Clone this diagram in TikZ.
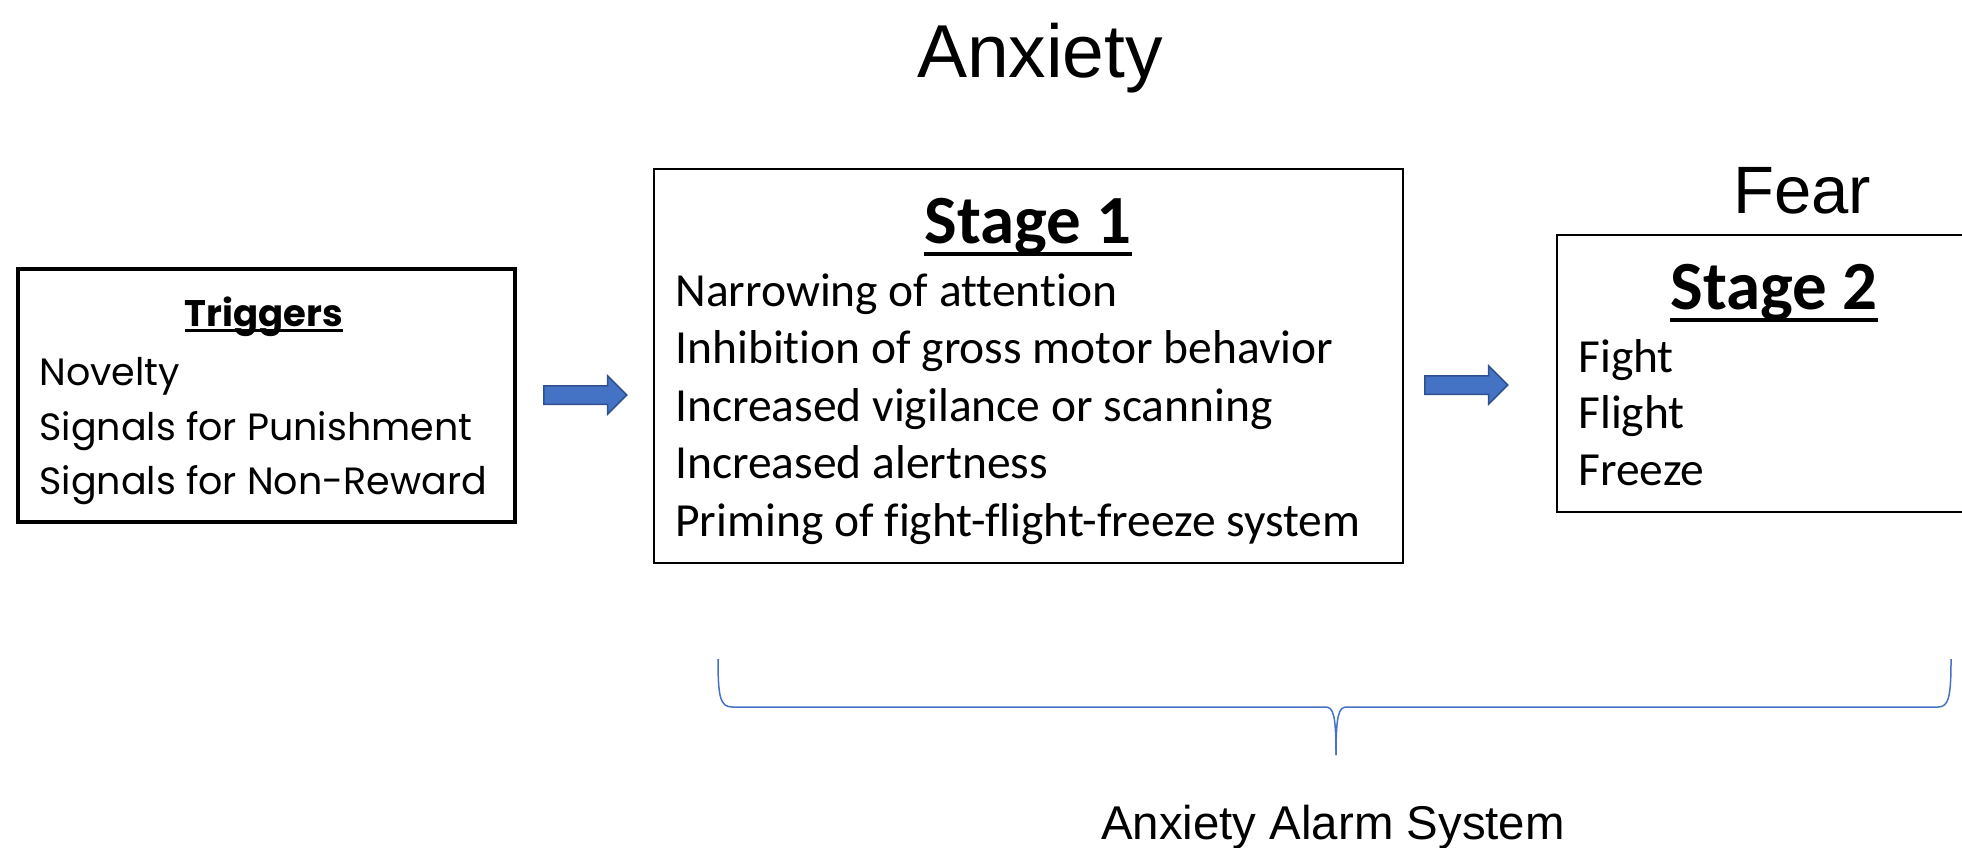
\documentclass[tikz,border=0pt]{standalone}
\usepackage{fontspec}
\setmainfont{Carlito}[Ligatures=NoCommon]
\newfontfamily\arialfont{Liberation Sans}
\newfontfamily\trigfont{Poppins}
\usetikzlibrary{shapes.arrows}

\definecolor{arrowblue}{RGB}{68,114,196}
\definecolor{arrowedge}{RGB}{47,82,143}
\definecolor{bracecol}{RGB}{68,114,196}

% underlined word: text, depth of rule, thickness
\newcommand{\ulword}[3]{\setbox0\hbox{#1}\rlap{\rule[-#2]{\wd0}{#3}}\box0}

\tikzset{every picture/.style={line width=0.75pt}}
\tikzset{
  boxnode/.style={draw, rectangle, inner sep=0, outer sep=0, anchor=north west},
  blockarrow/.style={single arrow, draw=arrowedge, fill=arrowblue, line width=1.5,
    single arrow head extend=10, single arrow tip angle=90, inner sep=8.5,
    minimum height=83, anchor=tail},
  itemtxt/.style={inner sep=0, anchor=base west, font=\fontsize{47.5}{57}\selectfont},
  trigtxt/.style={inner sep=0, anchor=base west, font=\trigfont\fontsize{38}{44}\selectfont},
  headtxt/.style={inner sep=0, anchor=base},
}

\begin{document}
\begin{tikzpicture}[x=1pt,y=1pt,yscale=-1,xscale=1]
\useasboundingbox (0,0) rectangle (1962,848);
\clip (0,0) rectangle (1962,848);

%Boxes
\node[boxnode, line width=4, minimum width=497, minimum height=253] (trig) at (18,269) {};
\node[boxnode, line width=2.7, minimum width=749, minimum height=394] (stageone) at (654,169) {};
\node[boxnode, line width=2.2, minimum width=430, minimum height=277] (stagetwo) at (1557,235) {};

%Block arrows
\node[blockarrow] (arrone) at (543,395) {};
\node[blockarrow] (arrtwo) at (1424,385) {};

%Brace
\draw[bracecol, line width=1.5] (718,659) .. controls (718,696) and (720,707) .. (732,707) -- (1325,707) .. controls (1333,707) and (1336,713) .. (1336,755);
\draw[bracecol, line width=1.5] (1336,755) .. controls (1336,713) and (1339,707) .. (1347,707) -- (1938,707) .. controls (1949,707) and (1951,696) .. (1951,659);

% Text Node
\node[headtxt, font=\arialfont\fontsize{75}{90}\selectfont] (anxiety) at (1040,78) {Anxiety};
% Text Node
\node[headtxt, font=\arialfont\fontsize{67}{80}\selectfont] (fear) at (1802,213) {Fear};
% Text Node
\node[headtxt, font=\arialfont\fontsize{47.4}{56}\selectfont] (alarm) at (1333,839) {Anxiety Alarm System};

% Text Node
\node[headtxt, font=\trigfont\bfseries\fontsize{37}{44}\selectfont] (trigtitle) at (264,326) {\ulword{Triggers}{6pt}{3pt}};
\node[trigtxt] (novelty) at (39,385) {Novelty};
\node[trigtxt] (punish) at (39,440) {Signals for Punishment};
\node[trigtxt] (nonrew) at (39,494) {Signals for Non-Reward};

% Text Node
\node[headtxt, font=\bfseries\fontsize{69}{80}\selectfont] (oneTitle) at (1028,243) {\ulword{Stage 1}{13pt}{4pt}};
\node[itemtxt] (narrow) at (675,306) {Narrowing of attention};
\node[itemtxt] (inhib) at (675,363.5) {Inhibition of gross motor behavior};
\node[itemtxt] (vigil) at (675,421) {Increased vigilance or scanning};
\node[itemtxt] (alert) at (675,478.5) {Increased alertness};
\node[itemtxt] (prime) at (675,536) {Priming of fight-flight-freeze system};

% Text Node
\node[headtxt, font=\bfseries\fontsize{69}{80}\selectfont] (twoTitle) at (1774,309) {\ulword{Stage 2}{13pt}{4pt}};
\node[itemtxt] (fight) at (1578,372) {Fight};
\node[itemtxt] (flight) at (1578,428.5) {Flight};
\node[itemtxt] (freeze) at (1578,485) {Freeze};

\end{tikzpicture}
\end{document}
